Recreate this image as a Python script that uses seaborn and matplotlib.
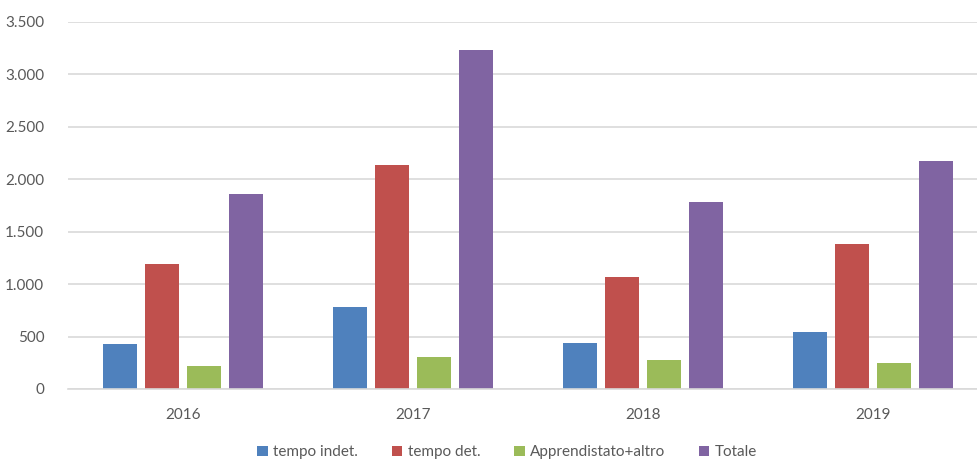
import matplotlib
matplotlib.use("Agg")
import matplotlib.pyplot as plt
import matplotlib.ticker as mticker
import pandas as pd
import seaborn as sns

years = ["2016", "2017", "2018", "2019"]
series = ["tempo indet.", "tempo det.", "Apprendistato+altro", "Totale"]
tempo_indet = [428, 781, 435, 546]
tempo_det = [1193, 2133, 1063, 1377]
apprendistato = [222, 308, 276, 244]
totale = [1860, 3228, 1783, 2170]
colors = ["#4F81BD", "#C0504D", "#9BBB59", "#8064A2"]

rows = []
for name, vals in zip(series, [tempo_indet, tempo_det, apprendistato, totale]):
    for y, v in zip(years, vals):
        rows.append({"anno": y, "serie": name, "valore": v})
df = pd.DataFrame(rows)

sns.set_theme(style="white")
plt.rcParams["font.family"] = ["Lato", "DejaVu Sans"]
text_color = "#595959"
grid_color = "#D9D9D9"

fig = plt.figure(figsize=(9.77, 4.63), dpi=100)
ax = fig.add_axes([68 / 977, 74 / 463, 920 / 977, (389 - 21.7) / 463])

sns.barplot(data=df, x="anno", y="valore", hue="serie", hue_order=series,
            palette=colors, width=0.73, gap=0.21, saturation=1,
            edgecolor="none", ax=ax, legend=True)

ax.set_ylim(0, 3500)
ax.set_xlim(-0.5, 3.5)
ax.yaxis.set_major_locator(mticker.MultipleLocator(500))
ax.yaxis.set_major_formatter(
    mticker.FuncFormatter(lambda v, p: f"{int(v):,}".replace(",", ".")))
ax.grid(axis="y", color=grid_color, linewidth=1.2)
ax.set_axisbelow(True)
for s in ["top", "right", "left"]:
    ax.spines[s].set_visible(False)
ax.spines["bottom"].set_color(grid_color)
ax.spines["bottom"].set_linewidth(1.2)
ax.set_xlabel("")
ax.set_ylabel("")
ax.tick_params(axis="both", length=0, colors=text_color, labelsize=11)
ax.tick_params(axis="y", pad=17)
ax.tick_params(axis="x", pad=14)

handles, labels = ax.get_legend_handles_labels()
ax.legend_.remove()
fig.legend(handles, labels, loc="lower center", bbox_to_anchor=(507 / 977, -0.022),
           ncol=4, frameon=False, fontsize=11, handlelength=0.7,
           handleheight=0.7, handletextpad=0.35, columnspacing=2.2,
           labelcolor=text_color)

fig.savefig("out.png", dpi=100)
